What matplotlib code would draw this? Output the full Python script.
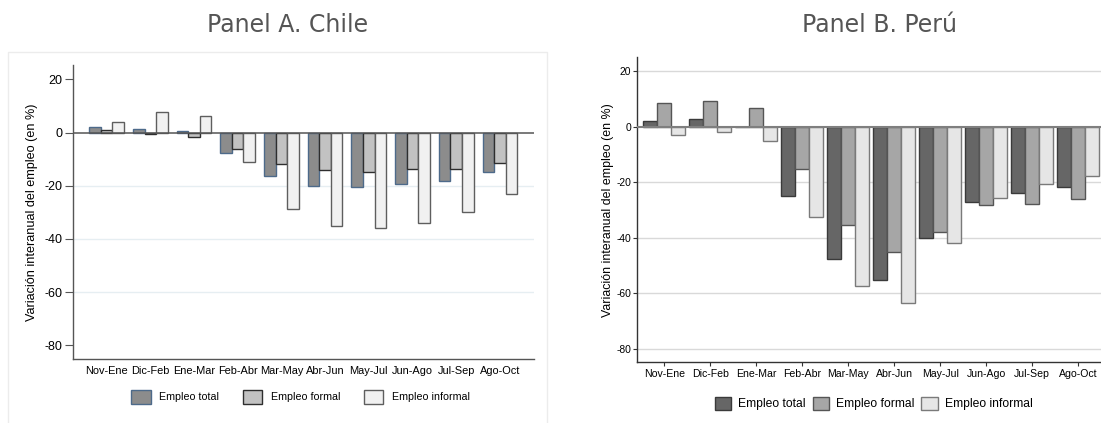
import matplotlib
matplotlib.use("Agg")
import matplotlib.pyplot as plt
import numpy as np
from matplotlib.patches import Patch, Rectangle

# ---- data ----
periodos = ["Nov-Ene", "Dic-Feb", "Ene-Mar", "Feb-Abr", "Mar-May",
            "Abr-Jun", "May-Jul", "Jun-Ago", "Jul-Sep", "Ago-Oct"]

chile_total = [2.0, 1.5, 0.6, -7.7, -16.5, -20.0, -20.6, -19.5, -18.2, -14.9]
chile_formal = [1.1, -0.7, -1.6, -6.2, -12.0, -14.1, -14.9, -13.9, -13.7, -11.6]
chile_informal = [4.1, 7.7, 6.4, -11.2, -28.6, -35.2, -35.8, -34.1, -30.0, -23.2]

peru_total = [2.2, 2.9, -0.2, -25.0, -47.5, -55.0, -40.1, -26.9, -23.9, -21.5]
peru_formal = [8.5, 9.2, 6.7, -15.2, -35.4, -44.9, -37.9, -28.1, -27.9, -26.0]
peru_informal = [-2.8, -1.8, -5.2, -32.5, -57.5, -63.3, -41.8, -25.6, -20.5, -17.6]

series = ["Empleo total", "Empleo formal", "Empleo informal"]
yticks = [20, 0, -20, -40, -60, -80]
ylabel = "Variación interanual del empleo (en %)"

W, H = 1101, 423
plt.rcParams["font.family"] = ["Liberation Sans", "DejaVu Sans"]
plt.rcParams["axes.unicode_minus"] = False
fig = plt.figure(figsize=(W / 100, H / 100), dpi=100)


def px_axes(x0, x1, y0, y1):
    # pixel box (top-left origin) -> figure fraction axes
    return fig.add_axes([x0 / W, 1 - y1 / H, (x1 - x0) / W, (y1 - y0) / H])


x = np.arange(len(periodos))

# faint frame around panel A
fig.add_artist(Rectangle((8 / W, -0.05), (547 - 8) / W, 1.05 - 52 / H,
                         transform=fig.transFigure, fill=False,
                         ec="#ececec", lw=1))

# ---- Panel A. Chile ----
axA = px_axes(72.5, 534, 65, 359)
wA = 0.265
estA = [("#8c8c8c", "#4d6a8a"), ("#c2c2c2", "#2e2e2e"), ("#f1f1f1", "#5e5e5e")]
for k, vals in enumerate([chile_total, chile_formal, chile_informal]):
    axA.bar(x + (k - 1) * wA, vals, width=wA, color=estA[k][0],
            edgecolor=estA[k][1], lw=1.0, zorder=3)
for g in [-20, -40, -60]:
    axA.axhline(g, color="#e6eef2", lw=1, zorder=1)
axA.axhline(0, color="#555555", lw=1.1, zorder=4)
axA.set_xlim(-0.78, 9.78)
axA.set_ylim(-85.2, 25.4)
axA.set_yticks(yticks)
axA.set_xticks(x)
axA.set_xticklabels(periodos, fontsize=7.9)
axA.tick_params(axis="x", length=0, pad=5)
axA.tick_params(axis="y", labelsize=9, length=5.5, width=0.8, pad=2,
                color="#555555")
for s in ["top", "right"]:
    axA.spines[s].set_visible(False)
for s in ["left", "bottom"]:
    axA.spines[s].set_color("#555555")
    axA.spines[s].set_linewidth(1.0)
axA.set_ylabel(ylabel, fontsize=9.1)
axA.yaxis.set_label_coords(-0.075, 0.5)

hA = [Patch(fc=c, ec=e, lw=1.0) for c, e in estA]
fig.legend(hA, series, loc="center", bbox_to_anchor=(300.5 / W, 1 - 397 / H),
           ncol=3, frameon=False, fontsize=7.7, handlelength=1.82,
           handleheight=1.78, handletextpad=0.8, columnspacing=2.2,
           borderpad=0, borderaxespad=0)

fig.text(287.5 / W, 1 - 32.3 / H, "Panel A. Chile", ha="center",
         va="baseline", fontsize=17, color="#555555", family="DejaVu Sans")

# ---- Panel B. Perú ----
axB = px_axes(636.8, 1105.6, 57, 362.3)
wB = 0.305
estB = [("#666666", "#3a3a3a"), ("#a6a6a6", "#555555"), ("#e6e6e6", "#7a7a7a")]
for k, vals in enumerate([peru_total, peru_formal, peru_informal]):
    axB.bar(x + (k - 1) * wB, vals, width=wB, color=estB[k][0],
            edgecolor=estB[k][1], lw=1.0, zorder=3)
for g in [20, -20, -40, -60, -80]:
    axB.axhline(g, color="#d9d9d9", lw=1, zorder=1)
axB.axhline(0, color="#7f7f7f", lw=1.5, zorder=4)
axB.set_xlim(-0.6, 9.6)
axB.set_ylim(-84.8, 25.15)
axB.set_yticks(yticks)
axB.set_xticks(x)
axB.set_xticklabels(periodos, fontsize=7.6)
axB.tick_params(axis="x", length=3, width=0.8, pad=2, color="#333333")
axB.tick_params(axis="y", labelsize=7.4, length=3.2, width=0.8, pad=1,
                color="#333333")
for s in ["top", "right"]:
    axB.spines[s].set_visible(False)
for s in ["left", "bottom"]:
    axB.spines[s].set_color("#333333")
    axB.spines[s].set_linewidth(1.0)
axB.set_ylabel(ylabel, fontsize=8.9)
axB.yaxis.set_label_coords(-0.0486, 0.5)

hB = [Patch(fc=c, ec=e, lw=1.0) for c, e in estB]
fig.legend(hB, series, loc="center", bbox_to_anchor=(873.6 / W, 1 - 403.5 / H),
           ncol=3, frameon=False, fontsize=8.7, handlelength=1.37,
           handleheight=1.28, handletextpad=0.58, columnspacing=0.55,
           borderpad=0, borderaxespad=0)

fig.text(880 / W, 1 - 32.3 / H, "Panel B. Perú", ha="center",
         va="baseline", fontsize=17, color="#555555", family="DejaVu Sans")

fig.savefig("out.png", dpi=100)
